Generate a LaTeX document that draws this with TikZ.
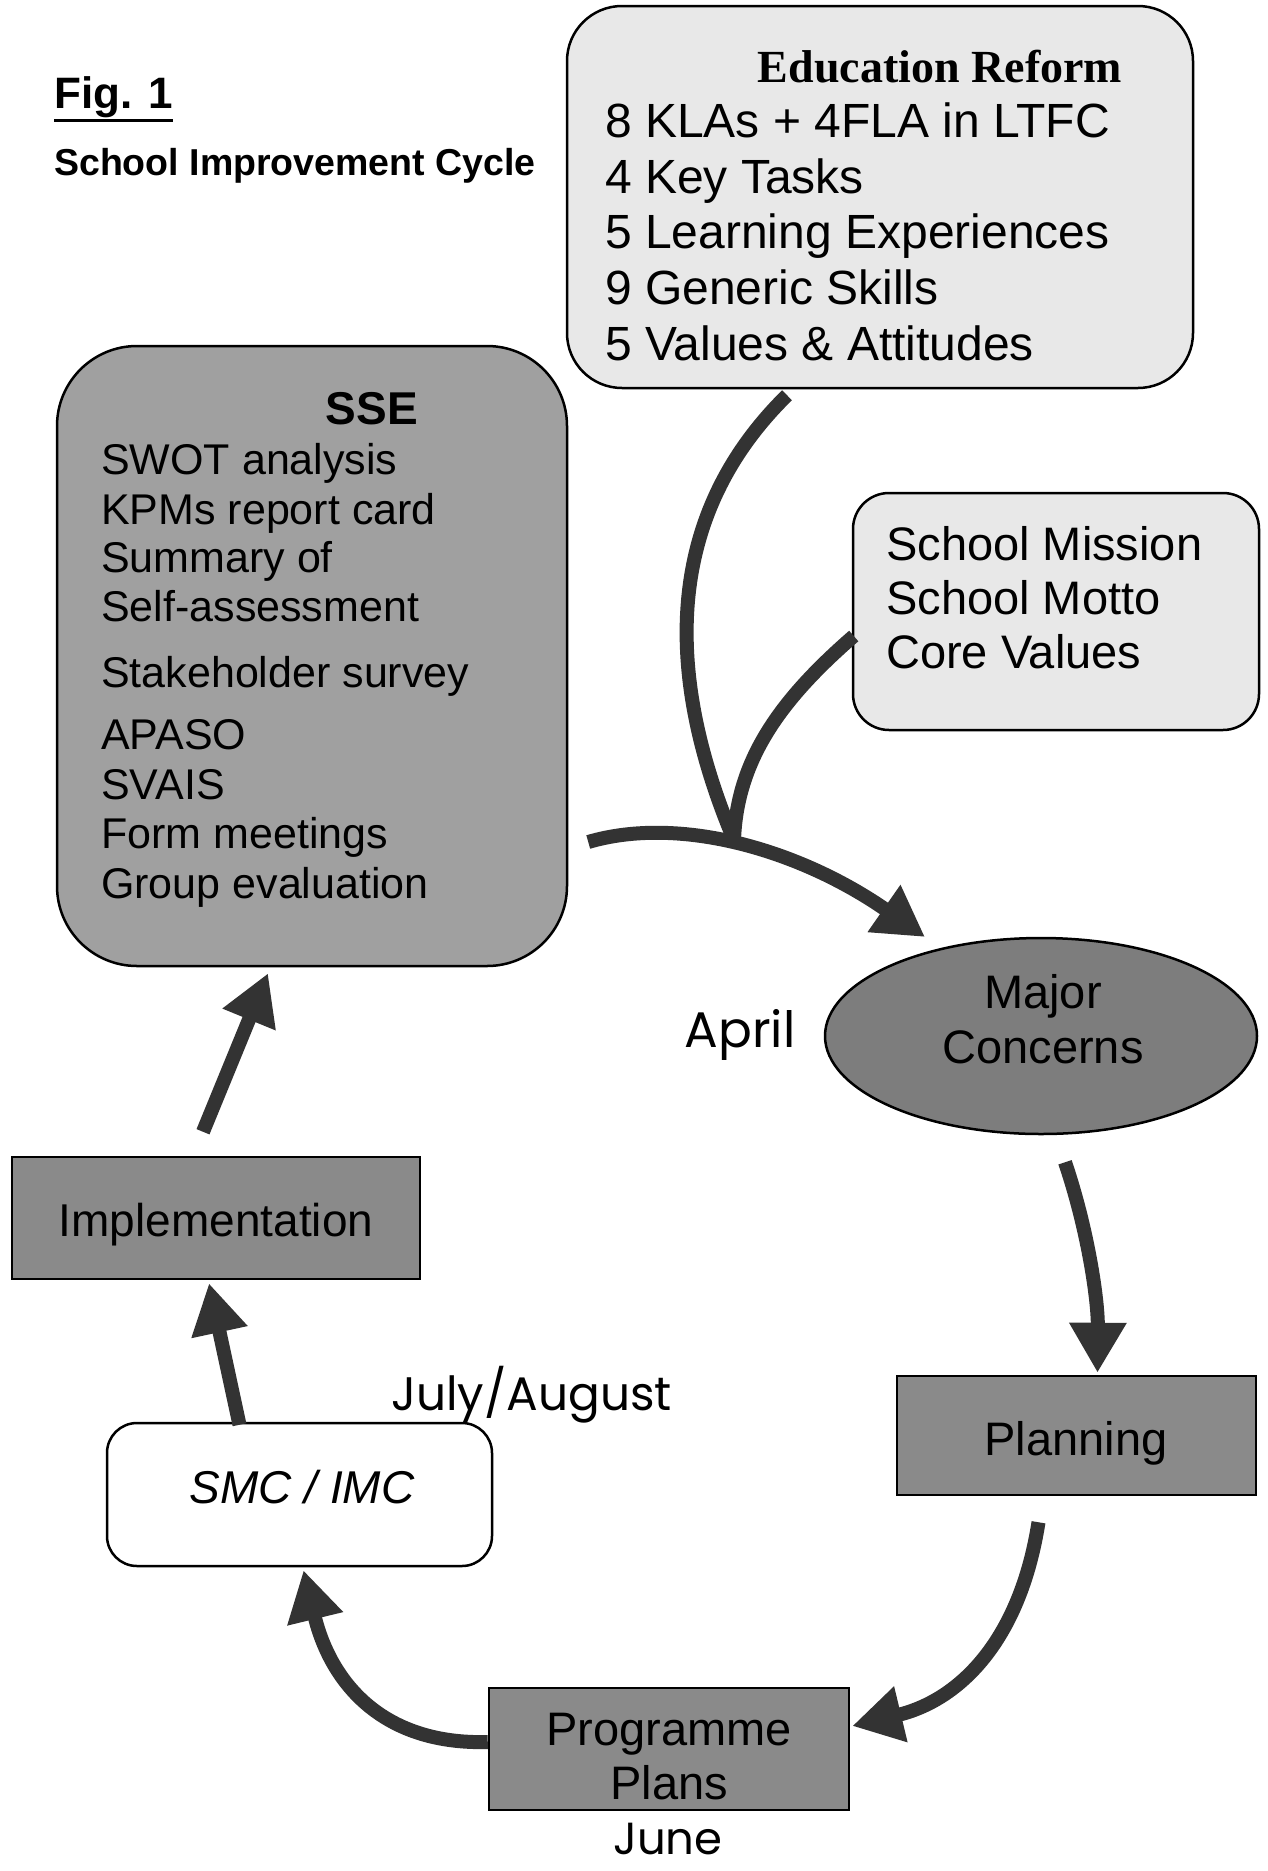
\documentclass[tikz,border=0pt]{standalone}
\usepackage{fontspec}
\setmainfont{Liberation Sans}
\newfontfamily\serifb{Liberation Serif}
\newfontfamily\handw{Poppins}
\usetikzlibrary{arrows.meta,calc,shapes.geometric}
\definecolor{lightfill}{HTML}{E8E8E8}
\definecolor{ssefill}{HTML}{A0A0A0}
\definecolor{darkfill}{HTML}{8A8A8A}
\definecolor{majorfill}{HTML}{7D7D7D}
\definecolor{arrowcol}{HTML}{333333}
\newcommand\myfs[1]{\fontsize{#1}{#1}\selectfont}
\tikzset{
  frame/.style={draw=black, line width=2.5pt, inner sep=0pt},
  txt/.style={inner sep=0pt, anchor=base west},
  ctxt/.style={inner sep=0pt, anchor=base},
  flow/.style={line width=14pt, draw=arrowcol, -{Triangle[width=54pt,length=50pt]}},
  branch/.style={line width=14pt, draw=arrowcol},
}
\begin{document}
\begin{tikzpicture}[x=1pt,y=-1pt]
\useasboundingbox[fill=white] (0,0) rectangle (1267,1871);

% title
\node[txt, font=\bfseries\myfs{44}] (fig) at (54,108) {Fig. 1};
\draw[line width=3.5pt] ($(fig.south west)+(0,3)$) -- ($(fig.south east)+(0,3)$);
\node[txt, font=\bfseries\myfs{37.5}] (title) at (54,175) {School Improvement Cycle};

% Education Reform
\node[frame, rounded corners=55pt, fill=lightfill, minimum width=626pt, minimum height=382pt] (edu) at (880,197) {};
\node[ctxt, font=\serifb\bfseries\myfs{46}] (edutitle) at (940,82) {Education Reform};
\foreach \t/\y [count=\i] in {8 KLAs + 4FLA in LTFC/137, 4 Key Tasks/193, 5 Learning Experiences/248, 9 Generic Skills/304, 5 Values \& Attitudes/360}
  \node[txt, font=\myfs{48}] (edu\i) at (605,\y) {\t};

% SSE
\node[frame, rounded corners=80pt, fill=ssefill, minimum width=510pt, minimum height=620pt] (sse) at (312,656) {};
\node[ctxt, font=\bfseries\myfs{46}] (ssetitle) at (372,424) {SSE};
\foreach \t/\y [count=\i] in {SWOT analysis/474, KPMs report card/524, Summary of/572, Self-assessment/621, Stakeholder survey/687, APASO/749, SVAIS/799, Form meetings/848, Group evaluation/898}
  \node[txt, font=\myfs{43}] (sse\i) at (101,\y) {\t};

% School Mission
\node[frame, rounded corners=36pt, fill=lightfill, minimum width=406pt, minimum height=237pt] (mission) at (1056,611.5) {};
\foreach \t/\y [count=\i] in {School Mission/560, School Motto/614, Core Values/668}
  \node[txt, font=\myfs{47}] (mis\i) at (886,\y) {\t};

% Major Concerns
\node[frame, ellipse, fill=majorfill, minimum width=432pt, minimum height=196pt] (major) at (1041,1036) {};
\node[ctxt, font=\myfs{47}] (maj1) at (1043,1008) {Major};
\node[ctxt, font=\myfs{47}] (maj2) at (1043,1063) {Concerns};

% Implementation
\node[frame, fill=darkfill, minimum width=408pt, minimum height=122pt] (impl) at (216,1218) {};
\node[ctxt, font=\myfs{46}] (implt) at (216,1236) {Implementation};

% Planning
\node[frame, fill=darkfill, minimum width=359pt, minimum height=119pt] (plan) at (1076.5,1435.5) {};
\node[ctxt, font=\myfs{47}] (plant) at (1076,1455) {Planning};

% Programme Plans
\node[frame, fill=darkfill, minimum width=360pt, minimum height=122pt] (prog) at (669,1749) {};
\node[ctxt, font=\myfs{47}] (prog1) at (669,1745) {Programme};
\node[ctxt, font=\myfs{47}] (prog2) at (669,1799) {Plans};

% SMC / IMC
\node[frame, rounded corners=30pt, fill=white, minimum width=385pt, minimum height=143pt] (smc) at (299.5,1494.5) {};
\node[ctxt, font=\itshape\myfs{46}] (smct) at (302,1503) {SMC / IMC};

% month labels
\node[ctxt, font=\handw\myfs{50}] (april) at (740,1047) {April};
\node[txt, font=\handw\myfs{47}] (july) at (391,1410) {July/August};
\node[ctxt, font=\handw\myfs{45}] (june) at (668,1854) {June};

% connectors
\coordinate (junc) at (734,840);
\draw[branch] ($(edu.south)+(-93,6)$) .. controls (650,530) and (675,700) .. (junc);
\draw[branch] ($(mission.west)+(2,24.5)$) .. controls (780,700) and (737,760) .. (junc);
\draw[flow] ($(sse.east)+(20,186)$) .. controls (680,815) and (800,850) .. ($(major.center)+(-116,-99)$);
\draw[flow] ($(major.south)+(24,27)$) .. controls (1088,1230) and (1098,1300) .. ($(plan.north)+(21,-2)$);
\draw[flow] ($(plan.south)+(-38,26)$) .. controls (1020,1640) and (960,1700) .. ($(prog.east)+(2,-23)$);
\draw[flow] ($(prog.west)+(0,-7)$) .. controls (380,1745) and (330,1680) .. ($(smc.south)+(4,3)$);
\draw[flow] ($(smc.north)+(-60,3)$) -- ($(impl.south)+(-7,3)$);
\draw[flow] ($(impl.north)+(-13,-24)$) -- ($(sse.south)+(-44,6)$);
\end{tikzpicture}
\end{document}
